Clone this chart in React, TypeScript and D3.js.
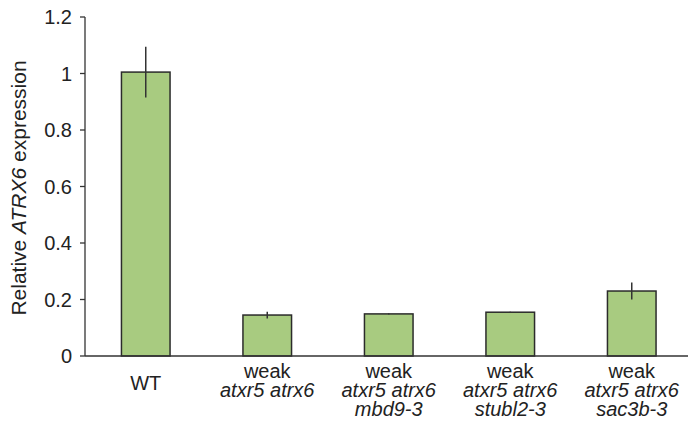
import React, { useEffect, useRef } from 'react';
import * as d3 from 'd3';

const categories = ['WT', 'weak1', 'weak2', 'weak3', 'weak4'];
const labelPlain = [['WT'], ['weak'], ['weak'], ['weak'], ['weak']];
const labelItalic = [[], ['atxr5 atrx6'], ['atxr5 atrx6', 'mbd9-3'], ['atxr5 atrx6', 'stubl2-3'], ['atxr5 atrx6', 'sac3b-3']];
const values = [1.005, 0.145, 0.149, 0.155, 0.23];
const errors = [0.09, 0.012, 0.002, 0.002, 0.03];
const yTicks = [0, 0.2, 0.4, 0.6, 0.8, 1, 1.2];

const App = () => {
    const ref = useRef<SVGSVGElement>(null);

    useEffect(() => {
        const svg = d3.select(ref.current);
        svg.selectAll('*').remove();

        const font = 'Arial, "Liberation Sans", sans-serif';

        const x = d3.scaleBand()
            .domain(categories)
            .range([85, 692.5])
            .paddingInner(0.6)
            .paddingOuter(0.3);

        const y = d3.scaleLinear()
            .domain([0, 1.2])
            .range([356, 17]);

        // Bars
        svg.selectAll('.bar')
            .data(values)
            .enter()
            .append('rect')
            .attr('x', (d, i) => x(categories[i]))
            .attr('width', x.bandwidth())
            .attr('y', d => y(d))
            .attr('height', d => y(0) - y(d))
            .attr('fill', '#a8cb80')
            .attr('stroke', '#2b2b2b')
            .attr('stroke-width', 1.5);

        // Error bars
        svg.selectAll('.err')
            .data(values)
            .enter()
            .append('line')
            .attr('x1', (d, i) => x(categories[i]) + x.bandwidth() / 2)
            .attr('x2', (d, i) => x(categories[i]) + x.bandwidth() / 2)
            .attr('y1', (d, i) => y(d + errors[i]))
            .attr('y2', (d, i) => y(d - errors[i]))
            .attr('stroke', '#333')
            .attr('stroke-width', 1.5);

        // Y axis
        svg.append('line')
            .attr('x1', 85).attr('x2', 85)
            .attr('y1', y(1.2)).attr('y2', y(0))
            .attr('stroke', '#333').attr('stroke-width', 1.3);
        yTicks.forEach(t => {
            svg.append('line')
                .attr('x1', 80).attr('x2', 85)
                .attr('y1', y(t)).attr('y2', y(t))
                .attr('stroke', '#333').attr('stroke-width', 1.3);
            svg.append('text')
                .attr('x', 72)
                .attr('y', y(t))
                .attr('dy', '0.35em')
                .attr('text-anchor', 'end')
                .attr('font-family', font)
                .attr('font-size', 20)
                .attr('fill', '#222')
                .text(String(t));
        });

        // X axis
        svg.append('line')
            .attr('x1', 85).attr('x2', 688)
            .attr('y1', y(0)).attr('y2', y(0))
            .attr('stroke', '#333').attr('stroke-width', 1.3);

        categories.forEach((c, i) => {
            const cx = x(c) + x.bandwidth() / 2;
            const lines = [
                ...labelPlain[i].map(t => ({ t, it: false })),
                ...labelItalic[i].map(t => ({ t, it: true })),
            ];
            const top = i === 0 ? 390 : 378;
            lines.forEach((l, j) => {
                svg.append('text')
                    .attr('x', cx)
                    .attr('y', top + j * 19)
                    .attr('text-anchor', 'middle')
                    .attr('font-family', font)
                    .attr('font-size', 20)
                    .attr('font-style', l.it ? 'italic' : 'normal')
                    .attr('fill', '#222')
                    .text(l.t);
            });
        });

        // Y label
        const yl = svg.append('text')
            .attr('transform', `translate(26,${188}) rotate(-90)`)
            .attr('text-anchor', 'middle')
            .attr('font-family', font)
            .attr('font-size', 21)
            .attr('fill', '#222');
        yl.append('tspan').text('Relative ');
        yl.append('tspan').attr('font-style', 'italic').text('ATRX6');
        yl.append('tspan').text(' expression');
    }, []);

    return (
        <svg ref={ref} width={689} height={421}
            style={{ position: 'absolute', left: 0, top: 0, background: '#fff' }} />
    );
};

export default App;
